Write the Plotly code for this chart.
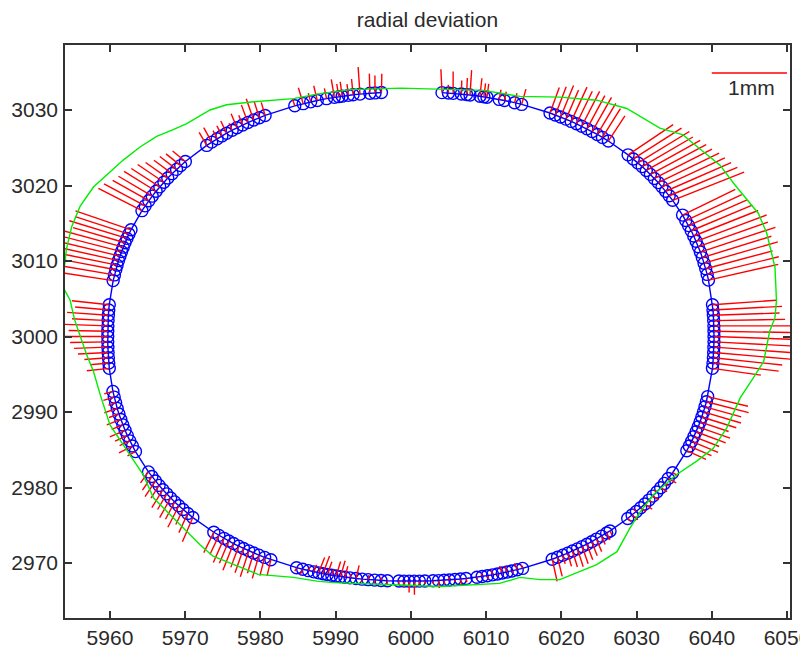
import numpy as np
import plotly.graph_objects as go

# ---------------- nominal profile ----------------
center_x = 6000.0
center_y = 3000.0
semi_x = 40.3
semi_y = 32.4
shape_exp = 2.2
mm_to_units = 10.0          # 1 mm of deviation is drawn as 10 axis units

# ---------------- measured points (polar angle, deg) per group, drawing order ----------------
theta_deg = [
    [82.7, 81.2, 80.1, 78.2, 77.0, 76.2, 73.9, 73.0, 72.3, 69.5, 68.3, 66.0, 64.4],
    [58.0, 56.8, 55.6, 54.4, 53.2, 52.0, 50.8, 49.6, 48.4, 47.2, 46.0, 44.6],
    [39.8, 38.5, 37.3, 36.2, 35.1, 34.0, 32.9, 31.8, 30.7, 29.6, 28.5, 27.4],
    [24.0, 22.8, 21.7, 20.6, 19.5, 18.4, 17.3, 16.2, 15.1, 14.0, 12.9, 11.8, 10.7],
    [6.0, 5.0, 4.0, 3.0, 2.0, 1.0, 0.0, 359.0, 358.0, 357.0, 356.0, 355.0, 354.0],
    [348.6, 347.6, 346.6, 345.6, 344.6, 343.6, 342.6, 341.6, 340.6, 339.6, 338.6, 337.6],
    [332.6, 331.2, 330.0, 328.9, 327.8, 326.7, 325.6, 324.5, 323.4, 322.3, 321.2, 320.1],
    [315.8, 315.0, 313.8, 312.6, 311.5, 310.4, 309.3, 308.2, 307.1, 306.0, 304.9, 303.7, 302.5],
    [295.8, 294.6, 293.4, 292.3, 291.2, 290.1, 289.0, 287.8, 286.6, 285.4],
    [282.9, 281.6, 280.3, 279.0, 277.8, 276.5, 275.2],
    [273.3, 272.0, 270.8, 269.6, 268.4, 267.2],
    [264.5, 263.0, 261.5, 260.0, 258.6, 257.2, 255.8, 254.6, 253.6, 252.6, 251.6, 250.6,
     249.6, 248.6, 247.5, 246.3, 245.0, 243.6],
    [237.8, 236.4, 235.1, 233.9, 232.8, 231.6, 230.5, 229.3, 228.2, 227.1, 225.9, 224.7],
    [219.6, 218.3, 217.1, 216.0, 214.9, 213.8, 212.7, 211.6, 210.5, 209.4, 208.3, 207.2],
    [202.6, 201.4, 200.3, 199.2, 198.1, 197.0, 195.9, 194.8, 193.7, 192.6, 191.5, 190.4],
    [186.0, 185.0, 184.0, 183.0, 182.0, 181.0, 180.0, 179.0, 178.0, 177.0, 176.0, 175.0, 174.0],
    [169.4, 168.3, 167.3, 166.4, 165.5, 164.6, 163.7, 162.8, 161.9, 161.0, 160.1, 159.2],
    [155.0, 153.9, 152.7, 151.6, 150.4, 149.3, 148.1, 147.0, 145.8, 144.6, 143.5, 142.3],
    [137.0, 135.8, 134.5, 133.4, 132.3, 131.0, 129.9, 128.6, 127.4, 126.1, 124.8, 123.5],
    [116.8, 114.9, 113.2, 111.7, 109.6, 107.8, 106.8, 106.0, 104.6, 103.5, 101.9, 99.6, 98.4, 96.9],
]

# radial deviation of each point, mm
dev_mm = [
    [0.31, 0.11, 0.29, 0.18, 0.22, 0.33, 0.24, 0.18, 0.18, 0.13, 0.12, 0.13, 0.21],
    [0.36, 0.40, 0.45, 0.42, 0.50, 0.48, 0.52, 0.50, 0.52, 0.48, 0.45, 0.40],
    [0.72, 0.76, 0.80, 0.78, 0.82, 0.84, 0.86, 0.90, 0.92, 0.95, 0.98, 1.02],
    [0.78, 0.82, 0.85, 0.88, 0.92, 1.00, 0.98, 1.05, 0.96, 1.02, 0.92, 0.98, 0.95],
    [0.85, 0.92, 0.88, 0.95, 1.02, 1.06, 1.12, 1.08, 1.10, 1.05, 0.92, 0.88, 0.65],
    [0.55, 0.58, 0.50, 0.52, 0.48, 0.40, 0.45, 0.42, 0.36, 0.38, 0.32, 0.28],
    [0.08, 0.12, 0.07, 0.10, -0.04, 0.09, 0.05, 0.12, 0.08, -0.05, 0.10, 0.06],
    [0.06, 0.10, 0.12, 0.18, 0.20, 0.22, 0.24, 0.25, 0.22, 0.18, 0.12, 0.26, 0.30],
    [-0.05, -0.09, 0.03, -0.08, -0.10, 0.02, -0.06, 0.05, -0.04, 0.03],
    [0.05, 0.09, 0.03, -0.04, 0.05, 0.10, 0.04],
    [0.04, 0.06, 0.18, 0.15, 0.08, 0.05],
    [0.06, -0.04, 0.05, -0.06, 0.04, -0.18, -0.05, -0.15, -0.22, -0.20, -0.08, -0.18,
     -0.25, -0.22, -0.10, -0.05, 0.08, 0.05],
    [0.22, 0.25, 0.32, 0.28, 0.36, 0.34, 0.30, 0.38, 0.32, 0.35, 0.28, 0.30],
    [0.35, 0.28, 0.22, 0.32, 0.26, 0.30, 0.24, 0.28, 0.20, 0.25, 0.22, 0.18],
    [0.12, 0.20, 0.15, 0.18, 0.22, 0.16, 0.20, 0.14, 0.18, 0.10, 0.15, 0.12],
    [0.30, 0.25, 0.32, 0.40, 0.45, 0.50, 0.58, 0.52, 0.60, 0.48, 0.55, 0.45, 0.50],
    [0.74, 0.80, 0.70, 0.88, 0.76, 0.82, 0.78, 0.85, 0.72, 0.80, 0.75, 0.78],
    [0.65, 0.62, 0.55, 0.52, 0.50, 0.45, 0.42, 0.36, 0.30, 0.28, 0.25, 0.22],
    [0.20, 0.22, 0.12, 0.15, 0.18, 0.10, 0.20, 0.14, 0.25, 0.30, 0.22, 0.18],
    [0.10, 0.22, 0.12, 0.20, 0.14, 0.24, 0.17, 0.19, 0.15, 0.21, 0.36, 0.26, 0.23, 0.25],
]

# deviation direction relative to the polar angle, deg (one per group)
dir_offset_deg = [10, 12, -6, 2, -2, -2, 0, -20, 0, 0, 0, 0, 19, 27, 5, 0, 2, -2, -17, -8]

# ---------------- green envelope ----------------
green_x = [5998.6, 6009.6, 6014.5, 6019.8, 6024.7, 6028.7, 6033.1, 6036.2, 6037.5, 6041.1,
           6042.9, 6046.2, 6047.3, 6048.4, 6048.6, 6048.4, 6047.7, 6047.3, 6046.9, 6045.5,
           6043.8, 6042.0, 6040.2, 6038.0, 6035.3, 6032.2, 6030.5, 6029.1, 6027.4, 6024.7,
           6021.6, 6019.8, 6017.2, 6014.5, 6011.8, 6003.9, 5998.6, 5989.7, 5987.5, 5984.4,
           5979.7, 5976.4, 5973.7, 5972.0, 5969.3, 5965.8, 5964.4, 5962.7, 5960.0, 5958.7,
           5957.8, 5956.9, 5955.3, 5954.7, 5953.4, 5954.0, 5954.2, 5954.9, 5956.0, 5957.8,
           5959.6, 5961.8, 5964.0, 5966.2, 5968.4, 5970.2, 5973.3, 5975.5, 5979.1, 5984.4,
           5987.5, 5991.9, 5998.6]
green_y = [3032.9, 3032.6, 3031.8, 3031.7, 3031.3, 3030.2, 3027.6, 3026.7, 3025.6, 3022.7,
           3020.3, 3016.3, 3013.7, 3009.2, 3004.8, 3002.5, 3000.7, 2998.5, 2996.7, 2994.5,
           2991.9, 2987.9, 2985.2, 2983.5, 2981.7, 2979.0, 2976.8, 2974.6, 2971.5, 2969.8,
           2968.5, 2967.8, 2967.8, 2968.1, 2967.3, 2966.9, 2967.1, 2967.4, 2967.6, 2968.1,
           2968.5, 2969.8, 2970.9, 2972.4, 2975.1, 2978.6, 2981.7, 2984.3, 2988.3, 2992.3,
           2995.4, 2997.6, 3002.2, 3004.8, 3007.2, 3009.7, 3011.5, 3014.5, 3017.2, 3019.8,
           3021.4, 3023.4, 3025.1, 3026.5, 3027.4, 3028.2, 3030.0, 3030.7, 3031.1, 3031.5,
           3032.1, 3032.7, 3032.9]

# ---------------- scale bar ----------------
scale_mm = 1.0
scale_x0 = 6040.0
scale_y = 3034.9
scale_label = "1mm"
scale_label_x = 6045.3
scale_label_y = 3033.0

x_range = [5954.02, 6050.40]
y_range = [2962.72, 3038.61]
x_ticks = [5960, 5970, 5980, 5990, 6000, 6010, 6020, 6030, 6040, 6050]
y_ticks = [2970, 2980, 2990, 3000, 3010, 3020, 3030]

# ---------------- geometry ----------------
pts_x, pts_y, seg_x, seg_y = [], [], [], []
for grp, (ths, devs) in enumerate(zip(theta_deg, dev_mm)):
    off = np.radians(dir_offset_deg[grp])
    for th_d, d in zip(ths, devs):
        th = np.radians(th_d)
        c, s = np.cos(th), np.sin(th)
        r = 1.0 / ((abs(c) / semi_x) ** shape_exp + (abs(s) / semi_y) ** shape_exp) ** (1.0 / shape_exp)
        px = center_x + r * c
        py = center_y + r * s
        pts_x.append(px)
        pts_y.append(py)
        L = d * mm_to_units
        seg_x += [px, px + L * np.cos(th + off), None]
        seg_y += [py, py + L * np.sin(th + off), None]

FONT = "Liberation Sans, Arial, sans-serif"
TXT = "#2a2a2a"
fig = go.Figure()
fig.add_trace(go.Scatter(x=pts_x, y=pts_y, mode="lines+markers",
                         line=dict(color="#0000ff", width=1.4),
                         marker=dict(symbol="circle-open", size=12, color="#0000ff",
                                     line=dict(width=1.4, color="#0000ff")),
                         hoverinfo="skip"))
fig.add_trace(go.Scatter(x=seg_x, y=seg_y, mode="lines",
                         line=dict(color="#ff0000", width=1.4), hoverinfo="skip"))
fig.add_trace(go.Scatter(x=green_x, y=green_y, mode="lines",
                         line=dict(color="#00ee00", width=1.4), hoverinfo="skip"))
fig.add_trace(go.Scatter(x=[scale_x0, scale_x0 + scale_mm * mm_to_units], y=[scale_y, scale_y],
                         mode="lines", line=dict(color="#ff0000", width=1.6), hoverinfo="skip"))
fig.add_annotation(x=scale_label_x, y=scale_label_y, text=scale_label, showarrow=False,
                   xanchor="center", yanchor="middle",
                   font=dict(family=FONT, size=21, color=TXT))

axis_common = dict(showgrid=False, zeroline=False, showline=True, linecolor="#333333",
                   linewidth=1.6, mirror="ticks", ticks="inside", ticklen=7, tickwidth=1.6,
                   tickcolor="#333333", automargin=False, ticklabeloverflow="allow",
                   tickfont=dict(family=FONT, size=21, color=TXT))
fig.update_xaxes(range=x_range, tickvals=x_ticks, ticktext=[str(v) for v in x_ticks],
                 ticklabelstandoff=0, **axis_common)
fig.update_yaxes(range=y_range, tickvals=y_ticks, ticktext=[str(v) for v in y_ticks],
                 ticklabelstandoff=1, **axis_common)

fig.update_layout(width=800, height=648, margin=dict(l=65, r=10, t=45, b=30),
                  paper_bgcolor="white", plot_bgcolor="white", showlegend=False,
                  title=dict(text="radial deviation", x=0.5, xref="paper", xanchor="center",
                             y=1 - 20 / 648, yref="container", yanchor="middle",
                             font=dict(family=FONT, size=21, color=TXT)))

fig.write_html("out.html", config={"displayModeBar": False},
               post_script="document.body.style.margin='0';document.body.style.overflow='hidden';")
